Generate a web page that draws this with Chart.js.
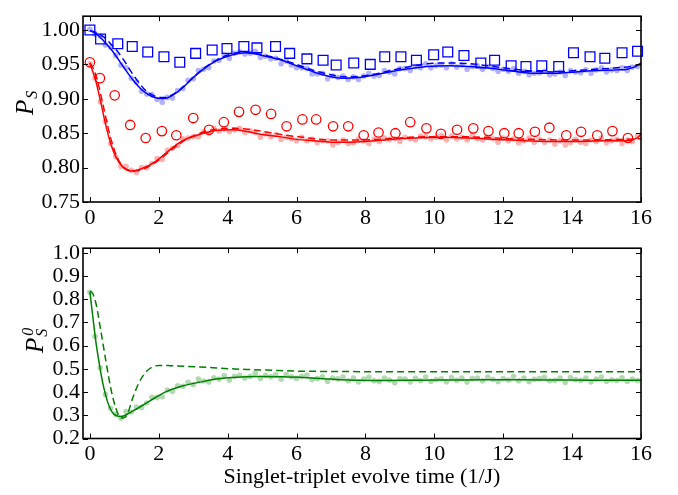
<!DOCTYPE html>
<html><head><meta charset="utf-8">
<script src="https://cdn.jsdelivr.net/npm/chart.js@4.4.1/dist/chart.umd.min.js"></script>
<style>
html,body{margin:0;padding:0;background:#fff;width:678px;height:495px;overflow:hidden}
canvas{position:absolute;left:0}
#c1{top:0}
#c2{top:232px}
</style></head><body>
<canvas id="c1" width="678" height="232"></canvas>
<canvas id="c2" width="678" height="263"></canvas>
<script>
// ---------- tick labels ----------
const xTicks = [0,2,4,6,8,10,12,14,16];
const topYTicks = [0.75,0.80,0.85,0.90,0.95,1.00];
const botYTicks = [0.2,0.3,0.4,0.5,0.6,0.7,0.8,0.9,1.0];

// ---------- open markers (top panel) ----------
const squareT = [0,0.31,0.81,1.23,1.68,2.15,2.61,3.07,3.55,3.98,4.47,4.85,5.39,5.80,6.30,6.77,7.15,7.66,8.14,8.56,9.03,9.48,9.98,10.39,10.86,11.35,11.75,12.23,12.66,13.12,13.61,14.04,14.52,14.95,15.45,15.90];
const squareP = [1.000,0.987,0.980,0.976,0.968,0.961,0.953,0.966,0.971,0.973,0.976,0.974,0.976,0.966,0.958,0.956,0.949,0.952,0.950,0.961,0.961,0.956,0.964,0.968,0.963,0.952,0.956,0.948,0.947,0.948,0.947,0.967,0.961,0.959,0.967,0.969];
const circleT = [0,0.29,0.72,1.17,1.62,2.09,2.51,3.00,3.46,3.89,4.33,4.81,5.26,5.71,6.17,6.57,7.06,7.50,7.95,8.38,8.87,9.30,9.77,10.19,10.66,11.13,11.57,12.03,12.45,12.92,13.34,13.83,14.26,14.73,15.17,15.62];
const circleP = [0.953,0.930,0.905,0.862,0.843,0.853,0.847,0.872,0.855,0.866,0.881,0.884,0.878,0.860,0.870,0.870,0.860,0.860,0.847,0.851,0.850,0.866,0.857,0.849,0.855,0.857,0.853,0.850,0.850,0.852,0.858,0.847,0.852,0.847,0.853,0.843];

// ---------- measured (light) dots ----------
const dotT = [0,0.15,0.3,0.45,0.6,0.75,0.9,1.05,1.2,1.35,1.5,1.65,1.8,1.95,2.1,2.25,2.4,2.55,2.7,2.85,3,3.15,3.3,3.45,3.6,3.75,3.9,4.05,4.2,4.35,4.5,4.65,4.8,4.95,5.1,5.25,5.4,5.55,5.7,5.85,6,6.15,6.3,6.45,6.6,6.75,6.9,7.05,7.2,7.35,7.5,7.65,7.8,7.95,8.1,8.25,8.4,8.55,8.7,8.85,9,9.15,9.3,9.45,9.6,9.75,9.9,10.05,10.2,10.35,10.5,10.65,10.8,10.95,11.1,11.25,11.4,11.55,11.7,11.85,12,12.15,12.3,12.45,12.6,12.75,12.9,13.05,13.2,13.35,13.5,13.65,13.8,13.95,14.1,14.25,14.4,14.55,14.7,14.85,15,15.15,15.3,15.45,15.6,15.75,15.9];
const blueDots = [1.001,0.994,0.991,0.978,0.975,0.963,0.949,0.945,0.930,0.924,
0.911,0.907,0.906,0.899,0.895,0.902,0.901,0.912,0.915,0.927,
0.929,0.941,0.943,0.945,0.955,0.956,0.963,0.959,0.966,0.968,
0.965,0.966,0.969,0.960,0.962,0.958,0.959,0.951,0.955,0.949,
0.945,0.945,0.944,0.936,0.936,0.937,0.929,0.933,0.931,0.933,
0.928,0.932,0.928,0.933,0.937,0.933,0.934,0.941,0.939,0.936,
0.944,0.944,0.941,0.947,0.945,0.951,0.945,0.948,0.949,0.945,
0.951,0.946,0.949,0.943,0.947,0.948,0.943,0.947,0.944,0.940,
0.943,0.940,0.944,0.937,0.940,0.935,0.937,0.938,0.940,0.935,
0.936,0.939,0.934,0.941,0.939,0.938,0.942,0.937,0.942,0.945,
0.939,0.942,0.941,0.945,0.941,0.946,0.947];
const redDots = [0.951,0.930,0.896,0.867,0.835,0.816,0.802,0.802,0.796,0.793,
0.800,0.800,0.806,0.813,0.812,0.825,0.828,0.832,0.842,0.843,
0.845,0.845,0.852,0.850,0.857,0.853,0.856,0.852,0.855,0.857,
0.851,0.854,0.851,0.844,0.849,0.845,0.848,0.841,0.844,0.842,
0.839,0.844,0.839,0.841,0.836,0.839,0.839,0.833,0.837,0.840,
0.835,0.836,0.842,0.839,0.835,0.841,0.838,0.843,0.841,0.842,
0.838,0.844,0.842,0.840,0.846,0.845,0.842,0.844,0.847,0.840,
0.846,0.842,0.844,0.840,0.847,0.842,0.840,0.844,0.842,0.837,
0.843,0.839,0.842,0.836,0.839,0.843,0.837,0.841,0.837,0.840,
0.834,0.839,0.833,0.836,0.841,0.837,0.835,0.840,0.838,0.843,
0.836,0.839,0.841,0.835,0.840,0.838,0.846];
const greenDots = [0.830,0.640,0.505,0.390,0.330,0.305,0.288,0.316,0.314,0.336,
0.334,0.353,0.378,0.377,0.380,0.409,0.402,0.427,0.425,0.442,
0.433,0.456,0.448,0.443,0.462,0.456,0.471,0.452,0.468,0.472,
0.461,0.468,0.481,0.460,0.472,0.466,0.474,0.456,0.476,0.466,
0.459,0.468,0.473,0.454,0.458,0.466,0.447,0.461,0.457,0.465,
0.449,0.460,0.444,0.456,0.464,0.449,0.446,0.461,0.452,0.440,
0.458,0.456,0.444,0.459,0.450,0.465,0.447,0.454,0.457,0.445,
0.463,0.451,0.460,0.443,0.458,0.461,0.449,0.464,0.455,0.446,
0.458,0.452,0.467,0.449,0.461,0.446,0.455,0.458,0.464,0.449,
0.451,0.460,0.442,0.463,0.454,0.451,0.460,0.444,0.456,0.465,
0.447,0.453,0.450,0.462,0.447,0.456,0.450];

// ---------- fitted curves ----------
const blueFitT = [0,0.2,0.4,0.66,0.95,1.24,1.53,1.82,2.11,2.4,2.69,2.98,3.27,3.66,4.14,4.5,5.0,5.5,6.0,6.5,7.0,7.3,7.8,8.3,8.8,9.3,9.8,10.4,11.0,11.7,12.3,12.9,13.5,14.1,14.7,15.3,15.6,15.85,16];
const blueFit = [0.999,0.994,0.984,0.969,0.948,0.928,0.912,0.903,0.900,0.905,0.916,0.930,0.942,0.955,0.964,0.967,0.963,0.957,0.948,0.939,0.932,0.930,0.931,0.935,0.940,0.944,0.947,0.948,0.947,0.944,0.940,0.937,0.937,0.939,0.941,0.942,0.943,0.947,0.952];
const blueDashT = [0,0.2,0.4,0.6,0.8,1.0,1.2,1.4,1.6,1.8,2.0,2.2,2.4,2.7,3.0,3.3,3.7,4.1,4.5,5.0,5.5,6.0,6.5,7.0,7.4,7.9,8.4,8.8,9.3,9.8,10.4,11.0,11.7,12.3,12.9,13.5,14.1,14.7,15.3,15.7,16];
const blueDash = [0.999,0.996,0.990,0.980,0.969,0.955,0.939,0.925,0.913,0.906,0.902,0.902,0.906,0.917,0.931,0.944,0.957,0.965,0.968,0.964,0.958,0.950,0.941,0.935,0.932,0.933,0.937,0.942,0.947,0.951,0.952,0.951,0.947,0.943,0.940,0.939,0.941,0.943,0.945,0.947,0.950];
const redFitT = [0,0.17,0.32,0.46,0.61,0.75,0.95,1.2,1.53,1.91,2.3,2.69,3.17,3.66,4.14,4.6,5.0,5.5,6.0,6.5,7.0,7.5,8.0,8.7,9.4,10.2,11.0,11.8,12.6,13.4,14.2,15.0,15.6,15.85,16];
const redFit = [0.952,0.926,0.894,0.862,0.834,0.816,0.801,0.795,0.799,0.809,0.825,0.839,0.848,0.854,0.855,0.852,0.848,0.845,0.841,0.839,0.837,0.837,0.838,0.841,0.843,0.844,0.843,0.841,0.839,0.838,0.838,0.839,0.839,0.842,0.848];
const redDashT = [0,0.1,0.22,0.37,0.51,0.68,0.9,1.1,1.3,1.6,2.0,2.4,2.8,3.2,3.7,4.2,4.7,5.2,5.7,6.2,6.7,7.2,7.7,8.3,9.0,9.8,10.6,11.4,12.2,13.0,13.8,14.6,15.4,16];
const redDash = [0.952,0.944,0.926,0.894,0.862,0.830,0.805,0.797,0.795,0.799,0.811,0.827,0.841,0.850,0.856,0.857,0.855,0.851,0.847,0.844,0.841,0.840,0.840,0.841,0.843,0.845,0.845,0.844,0.842,0.841,0.840,0.840,0.841,0.842];
const greenFitT = [0,0.08,0.17,0.27,0.37,0.51,0.66,0.9,1.24,1.72,2.2,2.69,3.17,3.65,4.14,4.9,5.6,6.3,7.0,7.8,8.6,9.5,10.5,11.5,12.5,13.5,14.5,15.3,16];
const greenFit = [0.832,0.731,0.621,0.525,0.442,0.360,0.311,0.295,0.318,0.360,0.401,0.426,0.442,0.456,0.463,0.467,0.466,0.462,0.456,0.451,0.450,0.451,0.452,0.453,0.453,0.452,0.451,0.451,0.451];
const greenDashT = [0,0.08,0.17,0.32,0.46,0.61,0.75,0.9,1.0,1.09,1.24,1.43,1.67,2.01,2.3,3.2,4.0,4.7,5.5,6.1,7.0,8.0,16];
const greenDash = [0.835,0.825,0.786,0.662,0.538,0.414,0.332,0.288,0.290,0.305,0.373,0.442,0.493,0.515,0.514,0.508,0.501,0.497,0.493,0.490,0.489,0.488,0.488];

const xTitle = 'Singlet-triplet evolve time (1/J)';

// ---------- helpers ----------
const pts = (t, v) => t.map((x, i) => ({x: x, y: v[i]}));
const SERIF = "'Liberation Serif','Times New Roman',serif";
const TICKFONT = {family: SERIF, size: 22};

function dotsDS(t, v, col) {
  return {data: pts(t, v), showLine: false, pointRadius: 2.8, pointBorderWidth: 0,
    pointBackgroundColor: col, pointBorderColor: col, order: 5};
}
function lineDS(t, v, col, dashed) {
  return {data: pts(t, v), showLine: true, pointRadius: 0, borderColor: col, borderWidth: 1.5,
    borderDash: dashed ? [7, 4] : [], cubicInterpolationMode: 'monotone', fill: false, order: dashed ? 3 : 2};
}
function markDS(t, v, col, style, r) {
  return {data: pts(t, v), showLine: false, pointStyle: style, pointRadius: r, pointBorderWidth: 1.3,
    pointBorderColor: col, pointBackgroundColor: 'rgba(0,0,0,0)', order: 1, clip: 6};
}

function framePlugin(drawLabel) {
  return {
    id: 'frame',
    afterDatasetsDraw(chart) {
      const ctx = chart.ctx, a = chart.chartArea, x = chart.scales.x, y = chart.scales.y;
      const L = 5;
      ctx.save();
      ctx.strokeStyle = '#000';
      ctx.lineWidth = 1;
      ctx.beginPath();
      x.ticks.forEach(t => {
        const px = Math.round(x.getPixelForValue(t.value)) + 0.5;
        ctx.moveTo(px, a.bottom); ctx.lineTo(px, a.bottom - L);
        ctx.moveTo(px, a.top); ctx.lineTo(px, a.top + L);
      });
      y.ticks.forEach(t => {
        const py = Math.round(y.getPixelForValue(t.value)) + 0.5;
        ctx.moveTo(a.left, py); ctx.lineTo(a.left + L, py);
        ctx.moveTo(a.right, py); ctx.lineTo(a.right - L, py);
      });
      ctx.stroke();
      ctx.lineWidth = 1.6;
      ctx.strokeRect(a.left, a.top, a.right - a.left, a.bottom - a.top);
      ctx.restore();
    },
    afterDraw(chart) { drawLabel(chart.ctx); }
  };
}

function yLabel(ctx, bx, by, sup) {
  ctx.save();
  ctx.translate(bx, by);
  ctx.rotate(-Math.PI / 2);
  ctx.fillStyle = '#000';
  ctx.textAlign = 'left';
  ctx.textBaseline = 'alphabetic';
  ctx.font = "italic 25px " + SERIF;
  ctx.fillText('P', 0, 0);
  const pw = ctx.measureText('P').width;
  ctx.font = "italic 16px " + SERIF;
  ctx.fillText('S', pw + 1, 4);
  if (sup) ctx.fillText(sup, pw + 2, -10);
  ctx.restore();
}

function baseOptions(yMin, yMax, yTicks, yDec, padTop, xH, showTitle) {
  return {
    responsive: false, animation: false, devicePixelRatio: 1,
    layout: {padding: {top: padTop, right: 37, left: 0, bottom: 0}},
    plugins: {legend: {display: false}, tooltip: {enabled: false}},
    scales: {
      x: {
        type: 'linear', min: -0.2, max: 16,
        afterBuildTicks: s => { s.ticks = xTicks.map(v => ({value: v})); },
        afterFit: s => { s.height = xH; },
        grid: {display: false, drawTicks: false}, border: {display: false},
        ticks: {padding: 3, font: TICKFONT, color: '#000', maxRotation: 0, autoSkip: false,
          callback: v => String(v)},
        title: {display: showTitle, text: xTitle, font: TICKFONT, color: '#000', padding: {top: 0, bottom: 5}}
      },
      y: {
        type: 'linear', min: yMin, max: yMax,
        afterBuildTicks: s => { s.ticks = yTicks.map(v => ({value: v})); },
        afterFit: s => { s.width = 83; },
        grid: {display: false, drawTicks: false}, border: {display: false},
        ticks: {padding: 3, font: TICKFONT, color: '#000', autoSkip: false,
          callback: v => Number(v).toFixed(yDec)}
      }
    }
  };
}

// ---------- top panel ----------
new Chart(document.getElementById('c1'), {
  type: 'scatter',
  data: {datasets: [
    dotsDS(dotT, blueDots, 'rgba(0,0,255,0.3)'),
    dotsDS(dotT, redDots, 'rgba(255,0,0,0.3)'),
    lineDS(blueDashT, blueDash, '#0000ff', true),
    lineDS(redDashT, redDash, '#ff0000', true),
    lineDS(blueFitT, blueFit, '#0000ff', false),
    lineDS(redFitT, redFit, '#ff0000', false),
    markDS(squareT, squareP, '#0000ff', 'rect', 6.9),
    markDS(circleT, circleP, '#ff0000', 'circle', 4.7)
  ]},
  options: baseOptions(0.75, 1.02, topYTicks, 2, 4, 30, false),
  plugins: [framePlugin(ctx => yLabel(ctx, 33, 115, null))]
});

// ---------- bottom panel ----------
new Chart(document.getElementById('c2'), {
  type: 'scatter',
  data: {datasets: [
    dotsDS(dotT, greenDots, 'rgba(0,128,0,0.3)'),
    lineDS(greenDashT, greenDash, '#008000', true),
    lineDS(greenFitT, greenFit, '#008000', false)
  ]},
  options: baseOptions(0.2, 1.02, botYTicks, 1, 9, 56.5, true),
  plugins: [framePlugin(ctx => yLabel(ctx, 43, 121, '0'))]
});
</script>
</body></html>
